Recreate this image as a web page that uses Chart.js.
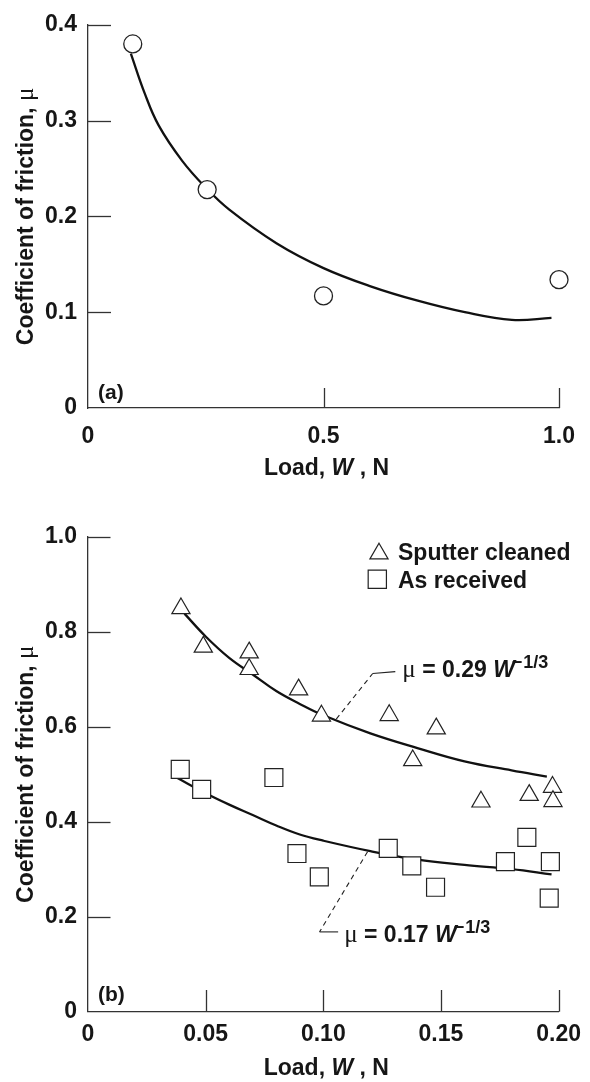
<!DOCTYPE html>
<html><head><meta charset="utf-8">
<script src="https://cdn.jsdelivr.net/npm/chart.js@4.4.1/dist/chart.umd.min.js"></script>
<style>
html,body{margin:0;padding:0;background:#fff;width:590px;height:1082px;overflow:hidden}
canvas{position:absolute;left:0}
#ca{top:0}
#cb{top:490px}
</style></head><body>
<canvas id="ca" width="590" height="490"></canvas>
<canvas id="cb" width="590" height="592"></canvas>
<script>
// ---------- Panel (a) data ----------
const loadA = [0.095, 0.253, 0.5, 1.0];
const muA   = [0.380, 0.228, 0.117, 0.134];
const fitLoadA = [0.091, 0.12, 0.15, 0.2, 0.25, 0.3, 0.4, 0.5, 0.6, 0.7, 0.8, 0.9, 0.984];
const fitMuA   = [0.370, 0.329, 0.295, 0.258, 0.230, 0.207, 0.172, 0.146, 0.127, 0.112, 0.100, 0.092, 0.094];
const xTickValsA = [0, 0.5, 1.0];
const xTickLabelsA = ['0', '0.5', '1.0'];
const yTickValsA = [0, 0.1, 0.2, 0.3, 0.4];
const yTickLabelsA = ['0', '0.1', '0.2', '0.3', '0.4'];

// ---------- Panel (b) data ----------
const loadSputter = [0.0395, 0.049, 0.0685, 0.0685, 0.0895, 0.0992, 0.128, 0.138, 0.148, 0.167, 0.1875, 0.1974, 0.1976];
const muSputter   = [0.849, 0.768, 0.756, 0.721, 0.678, 0.623, 0.624, 0.529, 0.596, 0.442, 0.456, 0.473, 0.443];
const loadReceived = [0.0392, 0.0483, 0.079, 0.0888, 0.0983, 0.1276, 0.1376, 0.1477, 0.1774, 0.1865, 0.1965, 0.196];
const muReceived   = [0.510, 0.468, 0.493, 0.333, 0.284, 0.344, 0.307, 0.262, 0.316, 0.367, 0.316, 0.239];
const fitLoadSputter = [0.041, 0.05, 0.06, 0.07, 0.08, 0.09, 0.10, 0.12, 0.14, 0.16, 0.18, 0.195];
const fitMuSputter   = [0.838, 0.790, 0.745, 0.710, 0.675, 0.648, 0.624, 0.586, 0.555, 0.527, 0.508, 0.495];
const fitLoadReceived = [0.038, 0.05, 0.06, 0.07, 0.08, 0.09, 0.10, 0.12, 0.14, 0.16, 0.18, 0.197];
const fitMuReceived   = [0.492, 0.460, 0.436, 0.414, 0.392, 0.373, 0.360, 0.338, 0.320, 0.309, 0.300, 0.289];
const xTickValsB = [0, 0.05, 0.10, 0.15, 0.20];
const xTickLabelsB = ['0', '0.05', '0.10', '0.15', '0.20'];
const yTickValsB = [0, 0.2, 0.4, 0.6, 0.8, 1.0];
const yTickLabelsB = ['0', '0.2', '0.4', '0.6', '0.8', '1.0'];

// ---------- styles ----------
const SANS = "'Liberation Sans', Arial, Helvetica, sans-serif";
const SERIF = "'Liberation Serif', 'Times New Roman', serif";
const TXT = '#161616';
const AX = '#333333';
const F_B = 'bold 23px ' + SANS;
const F_BI = 'italic bold 23px ' + SANS;
const F_MU = '25px ' + SERIF;
const F_SUP = 'bold 18px ' + SANS;

function pts(xs, ys) { return xs.map((x, i) => ({x: x, y: ys[i]})); }

function drawRuns(ctx, runs, x, y, align) {
  let total = 0;
  runs.forEach(r => { ctx.font = r.font; r.w = ctx.measureText(r.t).width + (r.kern || 0); total += r.w; });
  let cx = align === 'center' ? x - total / 2 : x;
  ctx.textAlign = 'left';
  ctx.textBaseline = 'alphabetic';
  runs.forEach(r => { ctx.font = r.font; ctx.fillText(r.t, cx, y + (r.dy || 0)); cx += r.w; });
}

function innerTicksPlugin(cfg) {
  return {
    id: 'innerTicks',
    afterDraw(chart) {
      const ctx = chart.ctx, xs = chart.scales.x, ys = chart.scales.y, a = chart.chartArea;
      ctx.save();
      ctx.strokeStyle = AX; ctx.lineWidth = 1.3;
      cfg.x.forEach(v => {
        if (v === 0) return;
        const p = Math.round(xs.getPixelForValue(v)) + 0.5;
        ctx.beginPath(); ctx.moveTo(p, a.bottom); ctx.lineTo(p, a.bottom - cfg.xLen); ctx.stroke();
      });
      cfg.y.forEach(v => {
        if (v === 0) return;
        const p = Math.round(ys.getPixelForValue(v)) + 0.5;
        ctx.beginPath(); ctx.moveTo(a.left, p); ctx.lineTo(a.left + cfg.yLen, p); ctx.stroke();
      });
      ctx.restore();
    }
  };
}

function decorPlugin(cfg) {
  return {
    id: 'decor',
    afterDraw(chart) {
      const ctx = chart.ctx, a = chart.chartArea, xs = chart.scales.x, ys = chart.scales.y;
      ctx.save();
      ctx.fillStyle = TXT;
      // x title
      drawRuns(ctx, [{t: 'Load, ', font: F_B}, {t: 'W', font: F_BI}, {t: ' , N', font: F_B}],
        (a.left + a.right) / 2 + 3, a.bottom + cfg.xTitleOffset, 'center');
      // y title (rotated)
      ctx.save();
      ctx.translate(cfg.yTitleX, (a.top + a.bottom) / 2);
      ctx.rotate(-Math.PI / 2);
      drawRuns(ctx, [{t: 'Coefficient of friction, ', font: F_B}, {t: '\u03bc', font: F_MU}], 0, 0, 'center');
      ctx.restore();
      // panel label
      ctx.font = 'bold 21px ' + SANS;
      ctx.textAlign = 'left'; ctx.textBaseline = 'alphabetic';
      ctx.fillText(cfg.panel, a.left + 10, a.bottom - cfg.panelOffset);
      // legend
      if (cfg.legend) {
        cfg.legend.forEach(item => {
          const ds = chart.data.datasets[item.ds];
          ctx.fillStyle = '#fff'; ctx.strokeStyle = '#222'; ctx.lineWidth = 1.2;
          Chart.helpers.drawPoint(ctx, {pointStyle: ds.pointStyle, radius: item.r, borderWidth: 1.2, rotation: 0},
            a.left + item.sx, a.top + item.sy);
          ctx.fillStyle = TXT;
          ctx.font = F_B; ctx.textAlign = 'left'; ctx.textBaseline = 'alphabetic';
          ctx.fillText(ds.label, a.left + 310, a.top + item.ty);
        });
      }
      // annotations
      if (cfg.notes) {
        cfg.notes.forEach(n => {
          const P = n.leader.map(p => [xs.getPixelForValue(p[0]), ys.getPixelForValue(p[1])]);
          ctx.strokeStyle = '#222'; ctx.lineWidth = 1.1;
          ctx.setLineDash([5, 4]);
          ctx.beginPath(); ctx.moveTo(P[0][0], P[0][1]); ctx.lineTo(P[1][0], P[1][1]); ctx.stroke();
          ctx.setLineDash([]);
          ctx.beginPath(); ctx.moveTo(P[1][0], P[1][1]); ctx.lineTo(P[2][0], P[2][1]); ctx.stroke();
          ctx.fillStyle = TXT;
          drawRuns(ctx, [
            {t: '\u03bc', font: F_MU},
            {t: ' = ' + n.coef + ' ', font: F_B},
            {t: 'W', font: F_BI, kern: -3},
            {t: '\u2212', font: F_SUP, dy: -9, kern: 1},
            {t: '1/3', font: F_SUP, dy: -9}
          ], xs.getPixelForValue(n.text[0]), ys.getPixelForValue(n.text[1]), 'left');
        });
      }
      ctx.restore();
    }
  };
}

function axisOpts(min, max, vals, labels, fixSize, isX, pad) {
  return {
    type: 'linear', min: min, max: max,
    afterBuildTicks: s => { s.ticks = vals.map(v => ({value: v})); },
    afterFit: s => { if (isX) s.height = fixSize; else s.width = fixSize; },
    grid: {drawOnChartArea: false, drawTicks: false, color: 'rgba(0,0,0,0)'},
    border: {display: true, color: AX, width: 1.3},
    ticks: {
      padding: pad, color: TXT, autoSkip: false, maxRotation: 0,
      font: {family: SANS, size: 23, weight: 'bold'},
      callback: (v, i) => labels[i]
    }
  };
}

const common = {
  responsive: false, animation: false, events: [],
  plugins: {legend: {display: false}, tooltip: {enabled: false}}
};

const fitStyle = {showLine: true, pointRadius: 0, borderColor: '#111', borderWidth: 2.3,
  tension: 0.4, fill: false, order: 1, clip: false};

// ---------- Chart (a) ----------
new Chart(document.getElementById('ca'), {
  type: 'scatter',
  data: {datasets: [
    {label: 'Data', data: pts(loadA, muA), pointStyle: 'circle', pointRadius: 9,
     pointBackgroundColor: '#fff', pointBorderColor: '#222', pointBorderWidth: 1.3, showLine: false, order: 0, clip: false},
    Object.assign({label: 'Fit', data: pts(fitLoadA, fitMuA)}, fitStyle)
  ]},
  options: Object.assign({}, common, {
    layout: {padding: {top: 22.7, right: 24, left: 0, bottom: 0}},
    scales: {
      x: axisOpts(0, 1.0, xTickValsA, xTickLabelsA, 82, true, 15),
      y: axisOpts(0, 0.4, yTickValsA, yTickLabelsA, 88, false, 11)
    }
  }),
  plugins: [
    innerTicksPlugin({x: xTickValsA, y: yTickValsA, xLen: 20, yLen: 23}),
    decorPlugin({xTitleOffset: 67, yTitleX: 33, panel: '(a)', panelOffset: 9.5})
  ]
});

// ---------- Chart (b) ----------
new Chart(document.getElementById('cb'), {
  type: 'scatter',
  data: {datasets: [
    {label: 'Sputter cleaned', data: pts(loadSputter, muSputter), pointStyle: 'triangle', pointRadius: 10.5,
     pointBackgroundColor: '#fff', pointBorderColor: '#222', pointBorderWidth: 1.2, showLine: false, order: 0, clip: false},
    {label: 'As received', data: pts(loadReceived, muReceived), pointStyle: 'rect', pointRadius: 12.7,
     pointBackgroundColor: '#fff', pointBorderColor: '#222', pointBorderWidth: 1.2, showLine: false, order: 0, clip: false},
    Object.assign({label: 'Fit sputter', data: pts(fitLoadSputter, fitMuSputter)}, fitStyle),
    Object.assign({label: 'Fit received', data: pts(fitLoadReceived, fitMuReceived)}, fitStyle)
  ]},
  options: Object.assign({}, common, {
    layout: {padding: {top: 46.7, right: 24.3, left: 0, bottom: 0}},
    scales: {
      x: axisOpts(0, 0.20, xTickValsB, xTickLabelsB, 70.3, true, 9),
      y: axisOpts(0, 1.0, yTickValsB, yTickLabelsB, 88, false, 11)
    }
  }),
  plugins: [
    innerTicksPlugin({x: xTickValsB, y: yTickValsB, xLen: 21.7, yLen: 22.5}),
    decorPlugin({
      xTitleOffset: 63.5, yTitleX: 33, panel: '(b)', panelOffset: 11,
      legend: [
        {ds: 0, r: 10.5, sx: 291, sy: 17, ty: 23.3},
        {ds: 1, r: 12.9, sx: 289.3, sy: 42.5, ty: 51.3}
      ],
      notes: [
        {coef: '0.29', leader: [[0.1055, 0.616], [0.121, 0.712], [0.1306, 0.716]], text: [0.1336, 0.7046]},
        {coef: '0.17', leader: [[0.1188, 0.3368], [0.0984, 0.168], [0.1063, 0.168]], text: [0.1089, 0.1474]}
      ]
    })
  ]
});
</script>
</body></html>
